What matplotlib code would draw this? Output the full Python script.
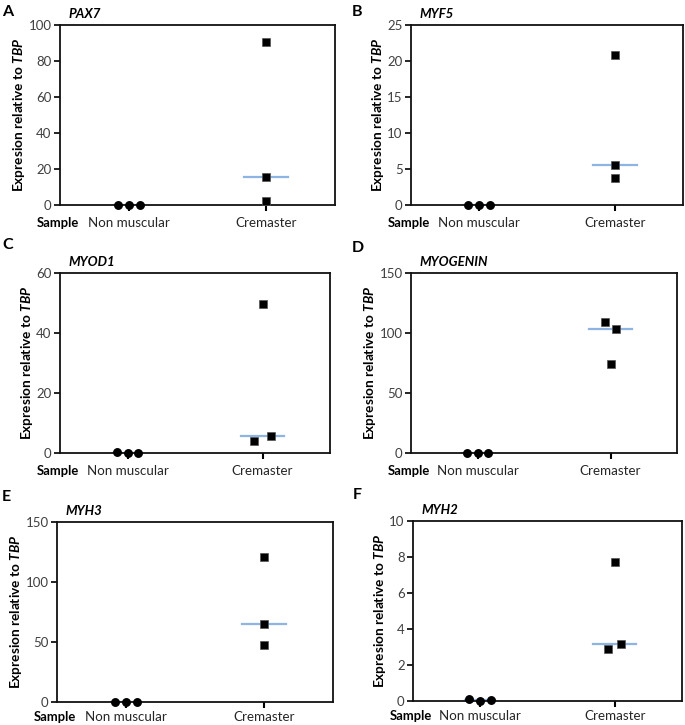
import matplotlib
matplotlib.use("Agg")
import matplotlib.pyplot as plt
import matplotlib.transforms as mtransforms
import numpy as np

FONT = 'Lato'
plt.rcParams['font.family'] = [FONT, 'DejaVu Sans']
plt.rcParams['mathtext.fontset'] = 'custom'
plt.rcParams['mathtext.bfit'] = FONT + ':bold:italic'
plt.rcParams['mathtext.it'] = FONT + ':italic'
plt.rcParams['mathtext.bf'] = FONT + ':bold'
plt.rcParams['mathtext.rm'] = FONT

# ---------------- data ----------------
panel_letters = ['A', 'B', 'C', 'D', 'E', 'F']
gene_names = ['PAX7', 'MYF5', 'MYOD1', 'MYOGENIN', 'MYH3', 'MYH2']
categories = ['Non muscular', 'Cremaster']

nonmuscular_pax7 = [0.1, 0.1, 0.1]
nonmuscular_myf5 = [0.02, 0.02, 0.02]
nonmuscular_myod1 = [0.5, 0.0, 0.1]
nonmuscular_myogenin = [0.3, 0.1, 0.2]
nonmuscular_myh3 = [0.2, 0.1, 0.2]
nonmuscular_myh2 = [0.09, 0.0, 0.04]

cremaster_pax7 = [90.5, 15.5, 2.0]
cremaster_myf5 = [20.8, 5.6, 3.8]
cremaster_myod1 = [4.0, 49.8, 5.7]
cremaster_myogenin = [109.5, 74.5, 103.7]
cremaster_myh3 = [120.8, 64.7, 47.2]
cremaster_myh2 = [2.9, 7.72, 3.18]

ymax = [100, 25, 60, 150, 150, 10]
ystep = [20, 5, 20, 50, 50, 2]

nonmuscular_all = [nonmuscular_pax7, nonmuscular_myf5, nonmuscular_myod1,
                   nonmuscular_myogenin, nonmuscular_myh3, nonmuscular_myh2]
cremaster_all = [cremaster_pax7, cremaster_myf5, cremaster_myod1,
                 cremaster_myogenin, cremaster_myh3, cremaster_myh2]

# ---------------- layout (pixels) ----------------
W, H = 685, 725
boxes = [(60, 335, 25, 205), (411, 683, 25, 205),
         (60, 330, 273, 453), (411, 677, 273, 453),
         (57, 333, 522, 702), (413, 682, 521, 701)]
label_drop = [18, 18, 18, 18, 15, 15]
letter_pos = [(2, 12), (352, 12), (2, 245), (352, 248), (2, 497), (353, 495)]
# jitter of cremaster points per panel (in category units)
crem_jitter = [[0, 0, 0], [0, 0, 0], [-0.06, 0, 0.06],
               [-0.04, 0, 0.04], [0, 0, 0], [-0.05, 0, 0.05]]
nm_jitter = [-0.08, 0.0, 0.08]

fig = plt.figure(figsize=(W / 100, H / 100), dpi=100)
line_col = '#8EB4E3'
tick_col = '#404040'

for i in range(6):
    l, r, t, b = boxes[i]
    ax = fig.add_axes([l / W, 1 - b / H, (r - l) / W, (b - t) / H])
    nm = np.array(nonmuscular_all[i])
    cr = np.array(cremaster_all[i])
    # median lines
    ax.plot([-0.11, 0.11], [np.median(nm)] * 2, color=line_col, lw=1.6, zorder=2)
    ax.plot([0.84, 1.16], [np.median(cr)] * 2, color=line_col, lw=1.6, zorder=2)
    ax.plot(np.array(nm_jitter), nm, 'o', color='black', ms=5.4, zorder=3, clip_on=False)
    ax.plot(1 + np.array(crem_jitter[i]), cr, 's', color='black', mec='#555555',
            mew=0.5, ms=5.4, zorder=3, clip_on=False)
    ax.set_xlim(-0.5, 1.5)
    ax.set_ylim(0, ymax[i])
    ax.set_yticks(np.arange(0, ymax[i] + ystep[i] / 2, ystep[i]))
    ax.set_xticks([0, 1])
    ax.set_xticklabels([])
    ax.tick_params(axis='y', direction='out', length=4, width=1.2, labelsize=9.5,
                   labelcolor=tick_col, pad=2)
    ax.tick_params(axis='x', direction='out', length=4, width=1.5)
    for s in ax.spines.values():
        s.set_linewidth(1.3)
        s.set_color('#111111')
    ax.set_ylabel('Expresion relative to $\\mathbfit{TBP}$', fontsize=9.8,
                  fontweight='bold', labelpad=1)
    # category labels
    off_c = mtransforms.offset_copy(ax.get_xaxis_transform(), fig=fig, x=0,
                                    y=-label_drop[i], units='dots')
    for k, c in enumerate(categories):
        ax.text(k, 0, c, transform=off_c, fontsize=9.6, color='#262626',
                va='center', ha='center')
    # gene title
    off = mtransforms.offset_copy(ax.transAxes, fig=fig, x=8, y=11, units='dots')
    ax.text(0, 1, gene_names[i], transform=off, fontsize=9.5, fontweight='bold',
            fontstyle='italic', va='center', ha='left')
    # "Sample" label
    off2 = mtransforms.offset_copy(ax.transAxes, fig=fig, x=-2, y=-label_drop[i],
                                   units='dots')
    ax.text(0, 0, 'Sample', transform=off2, fontsize=9.4, fontweight='bold',
            va='center', ha='center')
    lx, ly = letter_pos[i]
    fig.text(lx / W, 1 - ly / H, panel_letters[i], fontsize=11.5, fontweight='bold',
             va='center', ha='left')

fig.savefig('out.png', dpi=100)
